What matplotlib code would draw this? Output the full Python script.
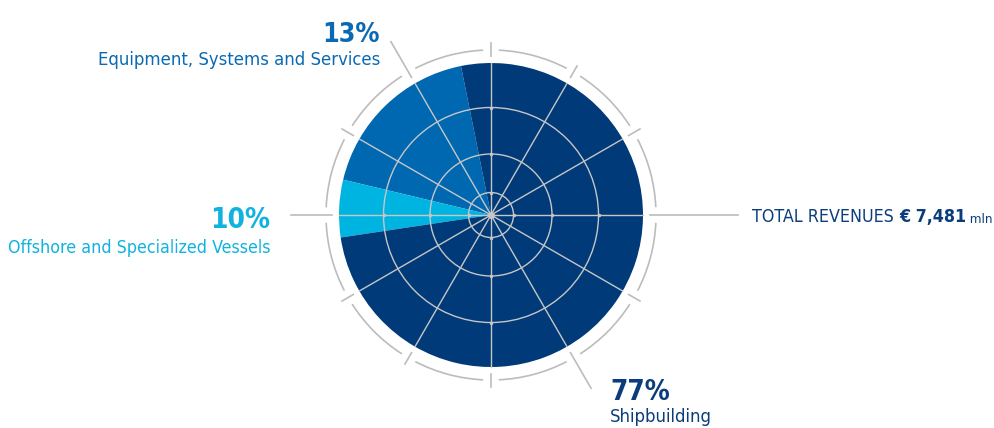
import numpy as np
import matplotlib
matplotlib.use("Agg")
import matplotlib.pyplot as plt
from matplotlib import font_manager
from matplotlib.patches import Arc, Circle

# Revenue split (labels) and slice sizes as drawn in the picture (share of circle)
segments = ["Equipment, Systems and Services", "Offshore and Specialized Vessels", "Shipbuilding"]
label_pct = [13, 10, 77]
slice_share = [18.1, 6.1, 75.8]
slice_colors = ["#0067b1", "#00b4e1", "#003a78"]
text_colors = ["#0a69b2", "#10b2df", "#0b3d7d"]
total_revenues = "7,481"

# pick a narrow face if one is around
names = {(f.name, f.stretch) for f in font_manager.fontManager.ttflist}
if any(n == "Liberation Sans Narrow" for n, _ in names):
    FONT, STRETCH = ["Liberation Sans Narrow", "DejaVu Sans"], "normal"
elif ("DejaVu Sans", "condensed") in names:
    FONT, STRETCH = ["DejaVu Sans"], "condensed"
else:
    FONT, STRETCH = ["Roboto", "DejaVu Sans"], "normal"

GRID = "#c6c6c6"
RING = "#bcbcbc"

cx, cy = 491, 213
R = 152

fig = plt.figure(figsize=(9.95, 4.28), dpi=100)
ax = fig.add_axes([0, 0, 1, 1])
ax.set_xlim(0, 995)
ax.set_ylim(0, 428)

ax.pie(slice_share, colors=slice_colors, startangle=101.4, counterclock=True,
       center=(cx, cy), radius=R, frame=True,
       wedgeprops={"linewidth": 0, "antialiased": True})

# polar grid inside the pie
for r in [22.5, 61, 107.5]:
    ax.add_patch(Circle((cx, cy), r, fill=False, ec=GRID, lw=1.0, zorder=3))
for a in np.arange(0, 360, 30):
    t = np.radians(a)
    ax.plot([cx, cx + R * np.cos(t)], [cy, cy + R * np.sin(t)], color=GRID, lw=1.0, zorder=3)
for r in [22.5, 61, 107.5]:
    for a in [0, 90, 180, 270]:
        t = np.radians(a)
        ax.plot(cx + r * np.cos(t), cy + r * np.sin(t), "o", ms=2.5, color=GRID, mec="none", zorder=4)
ax.plot(cx, cy, "o", ms=5, color=GRID, mec="none", zorder=4)

# outer ring with gaps and ticks
ring_r = 165
gap = 2.7
for a in np.arange(0, 360, 30):
    ax.add_patch(Arc((cx, cy), 2 * ring_r, 2 * ring_r, theta1=a + gap, theta2=a + 30 - gap,
                     color=RING, lw=1.2, zorder=2))
leaders = {0: 247, 120: 200, 180: 200, 300: 200}
for a in np.arange(0, 360, 30):
    t = np.radians(a)
    r0, r1 = 159, leaders.get(int(a), 172)
    ax.plot([cx + r0 * np.cos(t), cx + r1 * np.cos(t)],
            [cy + r0 * np.sin(t), cy + r1 * np.sin(t)], color=RING, lw=1.2, zorder=2)

ax.set_aspect("equal")
ax.axis("off")
renderer = fig.canvas.get_renderer()


def fit(txt, width):
    # shrink a text until it is no wider than width pixels
    while txt.get_window_extent(renderer).width > width and txt.get_fontsize() > 6:
        txt.set_fontsize(txt.get_fontsize() - 0.25)
    return txt


def label(x, y, s, size, color, ha, width, bold=False):
    t = ax.text(x, y, s, ha=ha, va="baseline", fontsize=size, color=color, family=FONT,
                fontstretch=STRETCH, fontweight="bold" if bold else "normal")
    return fit(t, width)


label(380, 386.5, f"{label_pct[0]}%", 21.5, text_colors[0], "right", 58, bold=True)
label(380, 363, segments[0], 15, text_colors[0], "right", 285)
label(270, 199.5, f"{label_pct[1]}%", 21.5, text_colors[1], "right", 60, bold=True)
label(270, 175, segments[1], 15, text_colors[1], "right", 264)
label(610, 28, f"{label_pct[2]}%", 21.5, text_colors[2], "left", 60, bold=True)
label(610, 6, segments[2], 15, text_colors[2], "left", 104)

# total revenues, built from three pieces, shrunk together to fit the right edge
kw = dict(color=text_colors[2], family=FONT, fontstretch=STRETCH)
t1 = ax.text(752, 206, "TOTAL REVENUES ", ha="left", va="baseline", fontsize=18, **kw)
t2 = ax.annotate(f"€ {total_revenues}", xycoords=t1, xy=(1, 0), ha="left", va="bottom",
                 fontsize=18, fontweight="bold", **kw)
t3 = ax.annotate(" mln", xycoords=t2, xy=(1, 0), ha="left", va="bottom", fontsize=13.5, **kw)
size = 18
while t3.get_window_extent(renderer).x1 > 993 and size > 8:
    size -= 0.25
    t1.set_fontsize(size)
    t2.set_fontsize(size)
    t3.set_fontsize(size * 0.75)

fig.savefig("out.png", dpi=100)
